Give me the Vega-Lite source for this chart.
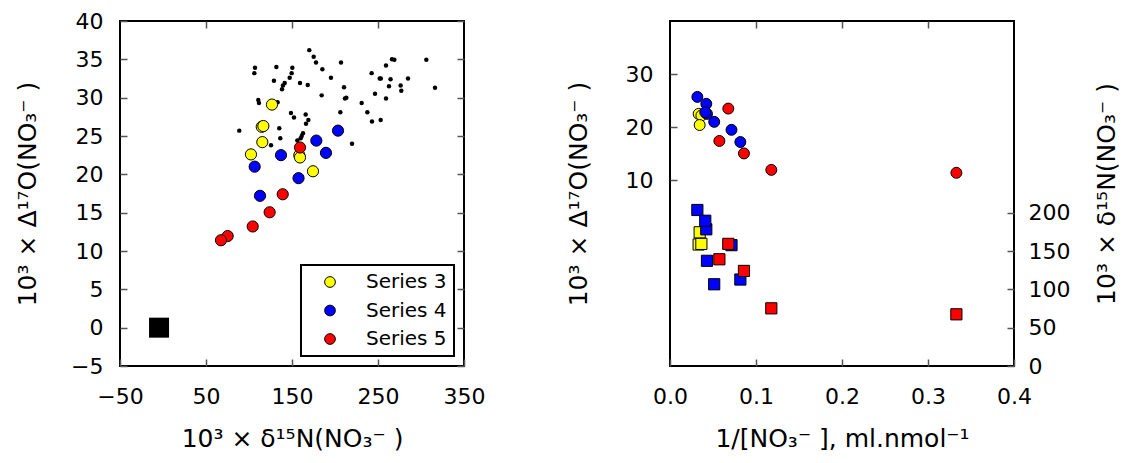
{
  "$schema": "https://vega.github.io/schema/vega-lite/v6.json",
  "background": "white",
  "padding": {"left": 14, "top": 9, "right": 0, "bottom": 0},
  "autosize": {"type": "pad"},
  "config": {
    "font": "DejaVu Sans",
    "view": {"stroke": "black", "strokeWidth": 2},
    "legend": {"strokeWidth": 2},
    "axis": {
      "grid": false, "domain": false, "tickColor": "#555", "tickWidth": 1.5, "tickSize": -7,
      "labelPadding": 24, "labelFontSize": 22, "labelColor": "black", "labelFont": "DejaVu Sans",
      "labelFlush": false, "labelOverlap": false,
      "titleFontSize": 25, "titleFontWeight": "normal", "titleColor": "black", "titleFont": "DejaVu Sans"
    }
  },
  "datasets": {
    "dots": [
      {"d15N": 170.1, "D17O": 36.2}, {"d15N": 175.2, "D17O": 35.35}, {"d15N": 177.9, "D17O": 34.6}, {"d15N": 185.3, "D17O": 33.7},
      {"d15N": 207.0, "D17O": 34.6}, {"d15N": 195.3, "D17O": 32.6}, {"d15N": 107.0, "D17O": 33.9}, {"d15N": 106.2, "D17O": 33.2},
      {"d15N": 131.8, "D17O": 34.0}, {"d15N": 150.4, "D17O": 33.9}, {"d15N": 149.6, "D17O": 33.2}, {"d15N": 147.3, "D17O": 32.6},
      {"d15N": 129.0, "D17O": 32.2}, {"d15N": 141.5, "D17O": 31.9}, {"d15N": 139.5, "D17O": 31.6}, {"d15N": 138.4, "D17O": 31.1},
      {"d15N": 159.3, "D17O": 31.9}, {"d15N": 168.3, "D17O": 31.65}, {"d15N": 210.5, "D17O": 31.35}, {"d15N": 184.5, "D17O": 30.3},
      {"d15N": 211.6, "D17O": 29.9}, {"d15N": 213.2, "D17O": 30.0}, {"d15N": 206.2, "D17O": 28.1}, {"d15N": 231.0, "D17O": 29.3},
      {"d15N": 237.6, "D17O": 28.1}, {"d15N": 243.0, "D17O": 26.9}, {"d15N": 253.1, "D17O": 27.1}, {"d15N": 246.5, "D17O": 30.5},
      {"d15N": 242.6, "D17O": 33.2}, {"d15N": 259.3, "D17O": 34.2}, {"d15N": 252.0, "D17O": 32.5}, {"d15N": 253.3, "D17O": 32.5},
      {"d15N": 264.6, "D17O": 32.4}, {"d15N": 262.8, "D17O": 31.5}, {"d15N": 259.3, "D17O": 29.9}, {"d15N": 266.3, "D17O": 35.0},
      {"d15N": 269.0, "D17O": 34.96}, {"d15N": 276.3, "D17O": 31.6}, {"d15N": 277.1, "D17O": 30.9}, {"d15N": 284.9, "D17O": 32.5},
      {"d15N": 306.2, "D17O": 34.96}, {"d15N": 316.3, "D17O": 31.3}, {"d15N": 110.8, "D17O": 29.7}, {"d15N": 111.6, "D17O": 29.3},
      {"d15N": 133.3, "D17O": 29.4}, {"d15N": 148.8, "D17O": 28.0}, {"d15N": 152.3, "D17O": 27.4}, {"d15N": 165.9, "D17O": 27.8},
      {"d15N": 169.0, "D17O": 27.1}, {"d15N": 166.3, "D17O": 26.6}, {"d15N": 135.2, "D17O": 26.0}, {"d15N": 136.4, "D17O": 24.7},
      {"d15N": 88.7, "D17O": 25.7}, {"d15N": 125.6, "D17O": 23.8}, {"d15N": 162.8, "D17O": 25.35}, {"d15N": 161.3, "D17O": 25.0},
      {"d15N": 160.1, "D17O": 24.7}, {"d15N": 156.2, "D17O": 24.4}, {"d15N": 219.8, "D17O": 24.0}
    ],
    "reference": [
      {"d15N": -4.6, "D17O": 0.0}
    ],
    "samples": [
      {"series": "Series 3", "d15N": 126.7, "D17O": 29.1, "inv": null},
      {"series": "Series 3", "d15N": 114.8, "D17O": 26.2, "inv": null},
      {"series": "Series 3", "d15N": 116.7, "D17O": 26.3, "inv": null},
      {"series": "Series 3", "d15N": 115.5, "D17O": 24.2, "inv": null},
      {"series": "Series 3", "d15N": 102.3, "D17O": 22.6, "inv": null},
      {"series": "Series 3", "d15N": 158.5, "D17O": 22.5, "inv": 0.0333},
      {"series": "Series 3", "d15N": 159.3, "D17O": 22.2, "inv": 0.0365},
      {"series": "Series 3", "d15N": 174.4, "D17O": 20.4, "inv": 0.0345},
      {"series": "Series 4", "d15N": 203.5, "D17O": 25.7, "inv": 0.0318},
      {"series": "Series 4", "d15N": 178.3, "D17O": 24.4, "inv": 0.0422},
      {"series": "Series 4", "d15N": 137.2, "D17O": 22.5, "inv": 0.043},
      {"series": "Series 4", "d15N": 189.5, "D17O": 22.8, "inv": 0.041},
      {"series": "Series 4", "d15N": 106.6, "D17O": 21.0, "inv": 0.0514},
      {"series": "Series 4", "d15N": 157.6, "D17O": 19.5, "inv": 0.0715},
      {"series": "Series 4", "d15N": 112.8, "D17O": 17.2, "inv": 0.0818},
      {"series": "Series 5", "d15N": 159.3, "D17O": 23.5, "inv": 0.0678},
      {"series": "Series 5", "d15N": 139.2, "D17O": 17.4, "inv": 0.0574},
      {"series": "Series 5", "d15N": 124.0, "D17O": 15.05, "inv": 0.086},
      {"series": "Series 5", "d15N": 104.3, "D17O": 13.2, "inv": null},
      {"series": "Series 5", "d15N": 75.2, "D17O": 11.95, "inv": 0.1178},
      {"series": "Series 5", "d15N": 67.4, "D17O": 11.4, "inv": 0.333}
    ]
  },
  "bounds": "flush",
  "spacing": 206,
  "resolve": {"scale": {"color": "independent"}, "legend": {"color": "independent"}},
  "hconcat": [
    {
      "width": 344,
      "height": 345,
      "layer": [
        {
          "data": {"name": "dots"},
          "mark": {"type": "point", "filled": true, "shape": "circle", "color": "black", "size": 20, "opacity": 1},
          "encoding": {
            "x": {"field": "d15N", "type": "quantitative", "scale": {"domain": [-50, 350], "nice": false, "zero": false},
                  "axis": {"orient": "bottom", "values": [-50, 50, 150, 250, 350], "labelPadding": 27, "title": "10³ × δ¹⁵N(NO₃⁻ )", "titlePadding": 19}},
            "y": {"field": "D17O", "type": "quantitative", "scale": {"domain": [-5, 40], "nice": false, "zero": false},
                  "axis": {"orient": "left", "values": [-5, 0, 5, 10, 15, 20, 25, 30, 35, 40], "title": "10³ × Δ¹⁷O(NO₃⁻ )", "titlePadding": 30}}
          }
        },
        {
          "data": {"name": "reference"},
          "mark": {"type": "point", "filled": true, "shape": "square", "color": "black", "size": 400, "opacity": 1},
          "encoding": {
            "x": {"field": "d15N", "type": "quantitative", "axis": null},
            "y": {"field": "D17O", "type": "quantitative", "axis": null}
          }
        },
        {
          "data": {"name": "samples"},
          "mark": {"type": "circle", "size": 125, "stroke": "black", "strokeWidth": 1, "opacity": 1},
          "encoding": {
            "x": {"field": "d15N", "type": "quantitative",
                  "axis": {"orient": "top", "labels": false, "title": null, "values": [50, 150, 250]}},
            "y": {"field": "D17O", "type": "quantitative",
                  "axis": {"orient": "right", "labels": false, "title": null, "values": [-5, 0, 5, 10, 15, 20, 25, 30, 35, 40]}},
            "color": {"field": "series", "type": "nominal",
                      "scale": {"domain": ["Series 3", "Series 4", "Series 5"], "range": ["#ffff00", "#0000ff", "#ff0000"]},
                      "legend": {"orient": "bottom-right", "offset": 10, "title": null, "strokeColor": "black", "fillColor": "white",
                                 "padding": 7, "cornerRadius": 0, "symbolOffset": 12, "labelOffset": 26, "rowPadding": 8.5,
                                 "labelFontSize": 20, "labelFont": "DejaVu Sans", "labelColor": "black", "symbolSize": 115, "symbolType": "circle",
                                 "symbolStrokeColor": "black", "symbolStrokeWidth": 1, "symbolOpacity": 1}}
          }
        }
      ]
    },
    {
      "width": 344,
      "height": 345,
      "resolve": {"scale": {"y": "independent"}},
      "layer": [
        {
          "data": {"name": "samples"},
          "transform": [{"filter": "isValid(datum.inv)"}],
          "mark": {"type": "circle", "size": 120, "stroke": "black", "strokeWidth": 1, "opacity": 1},
          "encoding": {
            "x": {"field": "inv", "type": "quantitative", "scale": {"domain": [0, 0.4], "nice": false, "zero": false},
                  "axis": {"orient": "bottom", "values": [0, 0.1, 0.2, 0.3, 0.4], "format": ".1f", "labelPadding": 27, "title": "1/[NO₃⁻ ], ml.nmol⁻¹", "titlePadding": 19}},
            "y": {"field": "D17O", "type": "quantitative", "scale": {"domain": [-25, 40], "nice": false, "zero": false},
                  "axis": {"orient": "left", "values": [10, 20, 30], "title": "10³ × Δ¹⁷O(NO₃⁻ )", "titlePadding": 34}},
            "color": {"field": "series", "type": "nominal",
                      "scale": {"domain": ["Series 3", "Series 4", "Series 5"], "range": ["#ffff00", "#0000ff", "#ff0000"]},
                      "legend": null}
          }
        },
        {
          "data": {"name": "samples"},
          "transform": [{"filter": "isValid(datum.inv)"}],
          "mark": {"type": "square", "size": 125, "stroke": "black", "strokeWidth": 1, "opacity": 1},
          "encoding": {
            "x": {"field": "inv", "type": "quantitative",
                  "axis": {"orient": "top", "labels": false, "title": null, "values": [0.1, 0.2, 0.3]}},
            "y": {"field": "d15N", "type": "quantitative", "scale": {"domain": [0, 450], "nice": false, "zero": false},
                  "axis": {"orient": "right", "values": [0, 50, 100, 150, 200], "labelPadding": 21, "title": "10³ × δ¹⁵N(NO₃⁻ )", "titleAngle": -90, "titleBaseline": "top", "titlePadding": 25}},
            "color": {"field": "series", "type": "nominal",
                      "scale": {"domain": ["Series 3", "Series 4", "Series 5"], "range": ["#ffff00", "#0000ff", "#ff0000"]},
                      "legend": null}
          }
        }
      ]
    }
  ]
}
